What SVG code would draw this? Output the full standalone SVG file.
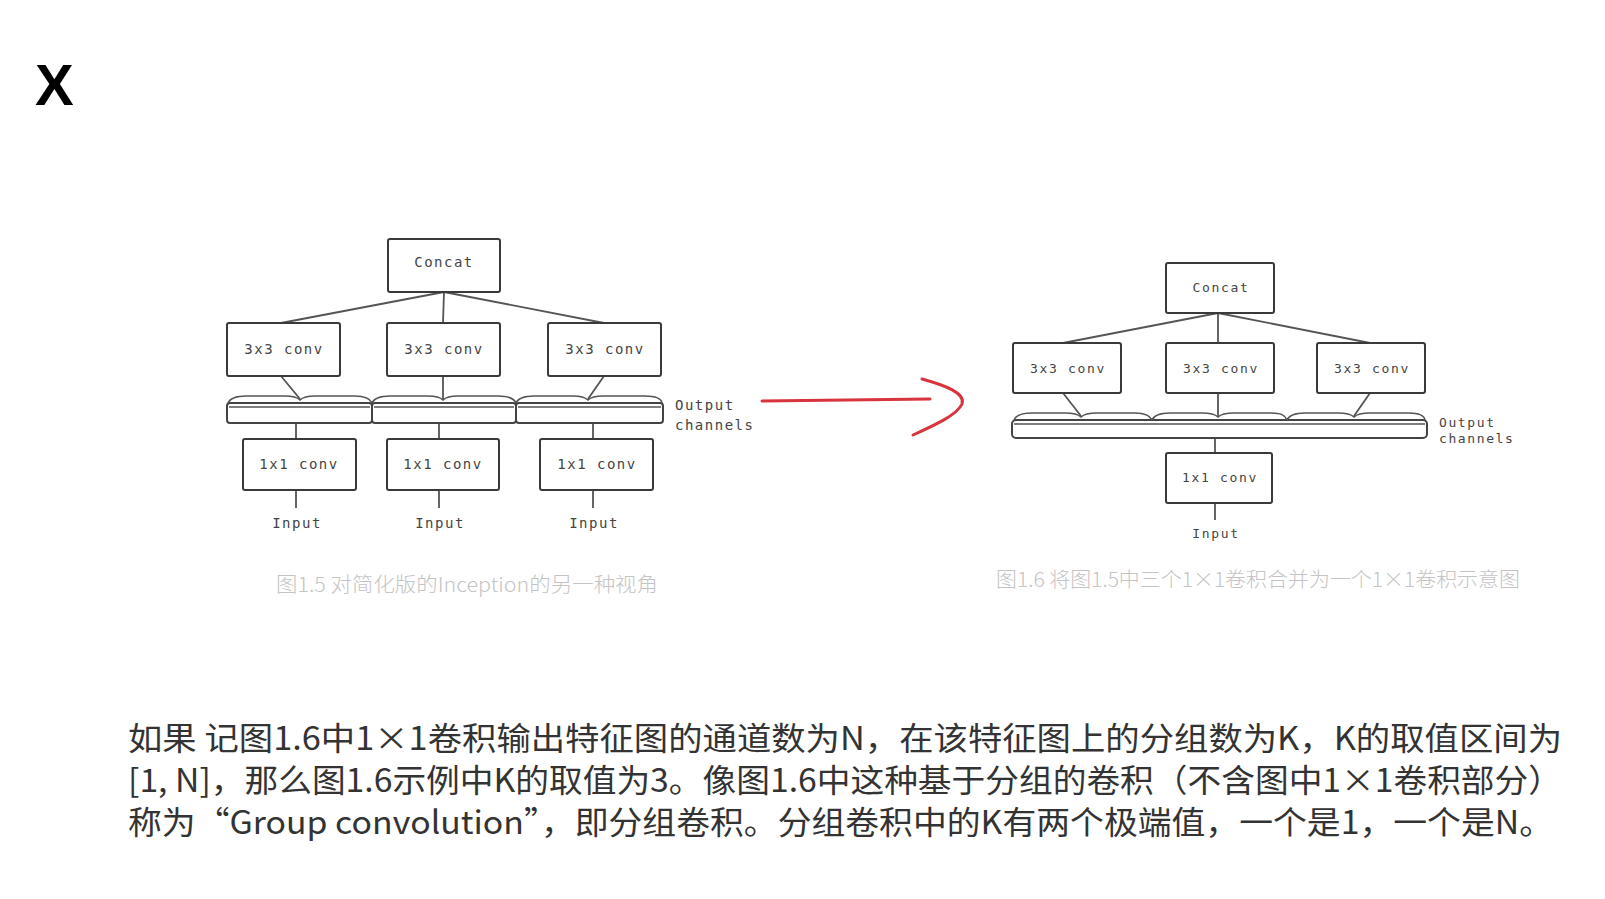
<svg xmlns="http://www.w3.org/2000/svg" width="1605" height="899" viewBox="0 0 1605 899">
<style>
.box{fill:#fff;stroke:#3a3a3a;stroke-width:2}
.bar{fill:#fff;stroke:#444;stroke-width:2}
.ln{fill:none;stroke:#555;stroke-width:1.8}
.br{fill:none;stroke:#555;stroke-width:1.6}
.lb{font-family:"DejaVu Sans Mono","Liberation Mono",monospace;font-size:14px;letter-spacing:1.5px;fill:#444;text-anchor:middle}
.lb2{font-family:"DejaVu Sans Mono","Liberation Mono",monospace;font-size:13px;letter-spacing:1.7px;fill:#444;text-anchor:middle}
.oc{font-family:"DejaVu Sans Mono","Liberation Mono",monospace;font-size:14px;letter-spacing:1.5px;fill:#444}
.oc2{font-family:"DejaVu Sans Mono","Liberation Mono",monospace;font-size:13px;letter-spacing:1.6px;fill:#444}
.cap{font-family:"Noto Sans CJK SC","Noto Sans",sans-serif;font-weight:300;font-size:20px;fill:#c4c4c4}
.body{font-family:"Noto Sans CJK SC","Noto Sans",sans-serif;font-size:32px;fill:#333}
</style>
<rect x="0" y="0" width="1605" height="899" fill="#fff"/>
<text x="35" y="105" font-family="Liberation Sans,Arial,sans-serif" font-weight="bold" font-size="58" fill="#000">X</text>

<!-- connectors -->
<g id="connectors">
  <!-- left diagram -->
  <path class="ln" d="M444,292 L281,323 M444,292 L443,323 M444,292 L604,323"/>
  <path class="ln" d="M281,376 L300,399 M443,376 L443,399 M604,376 L588,399"/>
  <path class="ln" d="M296,423 L296,439 M439,423 L439,439 M593,423 L593,439"/>
  <path class="ln" d="M296,490 L296,508 M439,490 L439,508 M593,490 L593,508"/>
  <!-- right diagram -->
  <path class="ln" d="M1218,313 L1063,343 M1218,313 L1218,343 M1218,313 L1370,343"/>
  <path class="ln" d="M1063,393 L1081,416 M1218,393 L1218,416 M1370,393 L1354,416"/>
  <path class="ln" d="M1215,438 L1215,453 M1215,503 L1215,520"/>
  <!-- red arrow -->
  <path d="M762,401 L930,399" fill="none" stroke="#d8343e" stroke-width="3" stroke-linecap="round"/>
  <path d="M922,379 C944,385 966,393 962,404 C957,415 935,425 913,435" fill="none" stroke="#d8343e" stroke-width="3" stroke-linecap="round"/>
</g>

<!-- left diagram nodes -->
<g id="l-concat"><rect class="box" x="388" y="239" width="112" height="53" rx="2"/><text class="lb" x="444" y="267">Concat</text></g>
<g id="l-conv3-1"><rect class="box" x="227" y="323" width="113" height="53" rx="2"/><text class="lb" x="284" y="354">3x3 conv</text></g>
<g id="l-conv3-2"><rect class="box" x="387" y="323" width="113" height="53" rx="2"/><text class="lb" x="444" y="354">3x3 conv</text></g>
<g id="l-conv3-3"><rect class="box" x="548" y="323" width="113" height="53" rx="2"/><text class="lb" x="605" y="354">3x3 conv</text></g>
<g id="l-output">
  <rect class="bar" x="227" y="403" width="145" height="20" rx="3"/>
  <rect class="bar" x="372" y="403" width="144" height="20" rx="3"/>
  <rect class="bar" x="516" y="403" width="147" height="20" rx="3"/>
  <path class="br" d="M229,407 L370,407 M374,407 L514,407 M518,407 L661,407" stroke="#999"/>
  <path class="br" d="M228,403 C230,398 236,396 246,396 L285,396 C293,396 297,397 300,400 C303,397 307,396 315,396 L355,396 C365,396 370,398 372,403
                      M372,403 C374,398 380,396 390,396 L428,396 C436,396 440,397 443,400 C446,397 450,396 458,396 L498,396 C508,396 514,398 516,403
                      M516,403 C518,398 524,396 534,396 L573,396 C581,396 585,397 588,400 C591,397 595,396 603,396 L645,396 C655,396 661,398 662,403"/>
  <text class="oc" x="675" y="410">Output</text>
  <text class="oc" x="675" y="430">channels</text>
</g>
<g id="l-conv1-1"><rect class="box" x="243" y="439" width="113" height="51" rx="2"/><text class="lb" x="299" y="469">1x1 conv</text></g>
<g id="l-conv1-2"><rect class="box" x="387" y="439" width="112" height="51" rx="2"/><text class="lb" x="443" y="469">1x1 conv</text></g>
<g id="l-conv1-3"><rect class="box" x="540" y="439" width="113" height="51" rx="2"/><text class="lb" x="597" y="469">1x1 conv</text></g>
<g id="l-input-1"><text class="lb" x="297" y="528">Input</text></g>
<g id="l-input-2"><text class="lb" x="440" y="528">Input</text></g>
<g id="l-input-3"><text class="lb" x="594" y="528">Input</text></g>
<text class="cap" x="276" y="592" textLength="382" lengthAdjust="spacingAndGlyphs">图1.5 对简化版的Inception的另一种视角</text>

<!-- right diagram nodes -->
<g id="r-concat"><rect class="box" x="1166" y="263" width="108" height="50" rx="2"/><text class="lb2" x="1221" y="292">Concat</text></g>
<g id="r-conv3-1"><rect class="box" x="1013" y="343" width="108" height="50" rx="2"/><text class="lb2" x="1068" y="373">3x3 conv</text></g>
<g id="r-conv3-2"><rect class="box" x="1166" y="343" width="108" height="50" rx="2"/><text class="lb2" x="1221" y="373">3x3 conv</text></g>
<g id="r-conv3-3"><rect class="box" x="1317" y="343" width="108" height="50" rx="2"/><text class="lb2" x="1372" y="373">3x3 conv</text></g>
<g id="r-output">
  <rect class="bar" x="1012" y="420" width="415" height="18" rx="4"/>
  <path class="br" d="M1014,424 L1425,424" stroke="#999"/>
  <path class="br" d="M1014,420 C1016,415 1022,413 1032,413 L1065,413 C1073,413 1078,414 1081,417 C1084,414 1089,413 1097,413 L1135,413 C1145,413 1150,415 1152,420
                      M1152,420 C1154,415 1160,413 1170,413 L1202,413 C1210,413 1215,414 1218,417 C1221,414 1226,413 1234,413 L1271,413 C1281,413 1285,415 1287,420
                      M1287,420 C1289,415 1295,413 1305,413 L1338,413 C1346,413 1351,414 1354,417 C1357,414 1362,413 1370,413 L1409,413 C1419,413 1424,415 1425,420"/>
  <text class="oc2" x="1439" y="427">Output</text>
  <text class="oc2" x="1439" y="443">channels</text>
</g>
<g id="r-conv1"><rect class="box" x="1166" y="453" width="106" height="50" rx="2"/><text class="lb2" x="1220" y="482">1x1 conv</text></g>
<g id="r-input"><text class="lb2" x="1216" y="538">Input</text></g>
<text class="cap" x="996" y="587" textLength="524" lengthAdjust="spacingAndGlyphs">图1.6 将图1.5中三个1×1卷积合并为一个1×1卷积示意图</text>

<!-- body text -->
<text class="body" x="128" y="750" textLength="1434" lengthAdjust="spacingAndGlyphs">如果 记图1.6中1×1卷积输出特征图的通道数为N，在该特征图上的分组数为K，K的取值区间为</text>
<text class="body" x="128" y="792" textLength="1434" lengthAdjust="spacingAndGlyphs">[1, N]，那么图1.6示例中K的取值为3。像图1.6中这种基于分组的卷积（不含图中1×1卷积部分）</text>
<text class="body" x="128" y="834" textLength="1425" lengthAdjust="spacingAndGlyphs">称为“Group convolution”，即分组卷积。分组卷积中的K有两个极端值，一个是1，一个是N。</text>
</svg>
